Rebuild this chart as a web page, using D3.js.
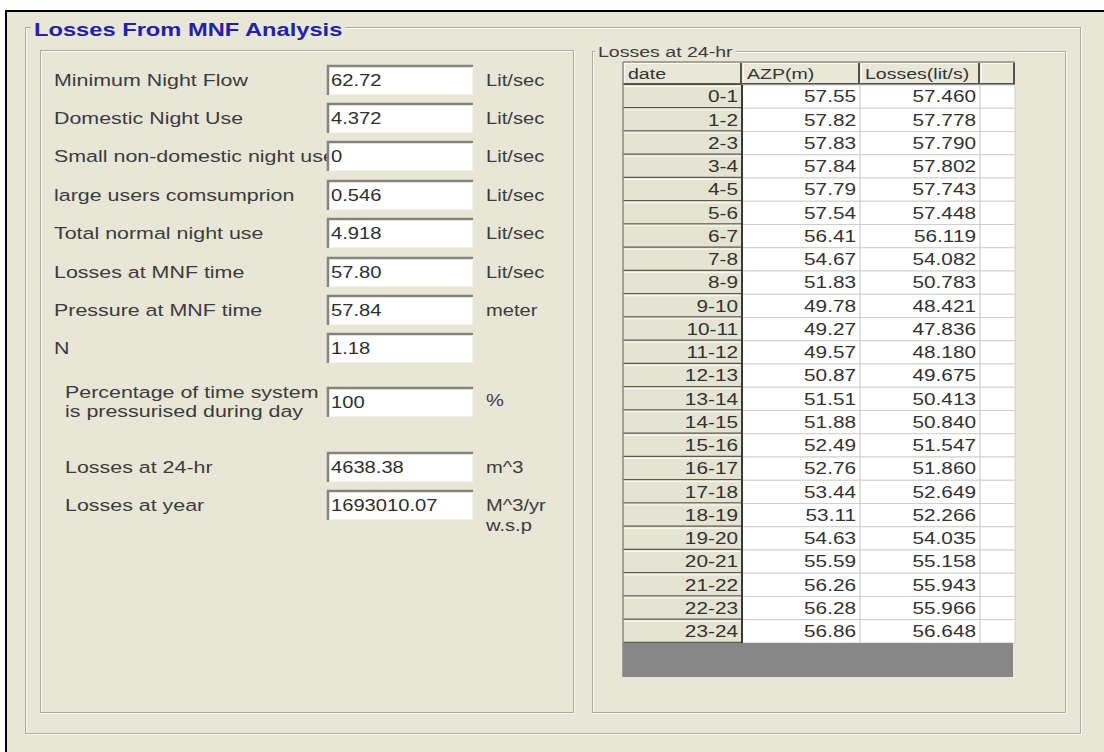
<!DOCTYPE html>
<html>
<head>
<meta charset="utf-8">
<script src="https://cdn.jsdelivr.net/npm/d3@7/dist/d3.min.js"></script>
<style>
  body { margin: 0; background: #fff; }
  svg text { font-family: "Liberation Sans", Arial, sans-serif; }
</style>
</head>
<body>
<svg id="mnf" width="1104" height="752"></svg>
<script>
// form fields (left panel)
const fieldLabels = ["Minimum Night Flow", "Domestic Night Use", "Small non-domestic night use",
  " large users comsumprion", "Total normal night use", "Losses at MNF time",
  "Pressure at MNF time", "N", "Percentage of time system\nis pressurised during day",
  "Losses at 24-hr", "Losses at year"];
const fieldValues = ["62.72", "4.372", "0", "0.546", "4.918", "57.80", "57.84", "1.18",
  "100", "4638.38", "1693010.07"];
const fieldUnits = ["Lit/sec", "Lit/sec", "Lit/sec", "Lit/sec", "Lit/sec", "Lit/sec",
  "meter", "", "%", "m^3", "M^3/yr\nw.s.p"];

// hourly table (right panel)
const columnTitles = ["date", "AZP(m)", "Losses(lit/s)", ""];
const hours = ["0-1", "1-2", "2-3", "3-4", "4-5", "5-6", "6-7", "7-8", "8-9", "9-10",
  "10-11", "11-12", "12-13", "13-14", "14-15", "15-16", "16-17", "17-18", "18-19",
  "19-20", "20-21", "21-22", "22-23", "23-24"];
const azp = [57.55, 57.82, 57.83, 57.84, 57.79, 57.54, 56.41, 54.67, 51.83, 49.78,
  49.27, 49.57, 50.87, 51.51, 51.88, 52.49, 52.76, 53.44, 53.11, 54.63,
  55.59, 56.26, 56.28, 56.86];
const losses = [57.460, 57.778, 57.790, 57.802, 57.743, 57.448, 56.119, 54.082, 50.783, 48.421,
  47.836, 48.180, 49.675, 50.413, 50.840, 51.547, 51.860, 52.649, 52.266, 54.035,
  55.158, 55.943, 55.966, 56.648];

const svg = d3.select("#mnf"),
      sx = 1.26,              // the screenshot is stretched sideways, so is the text
      bg = "#e8e6d6",
      lineDark = "#aeac9b",
      ink = "#3c3c3c";

// text with the sideways stretch
function txt(g, x, y, s, size, opt = {}) {
  const t = g.append("text")
    .attr("transform", `translate(${x},${y}) scale(${sx},1)`)
    .attr("dy", "0.35em")
    .attr("text-anchor", opt.anchor || "start")
    .style("font-size", size + "px")
    .style("font-weight", opt.bold ? "bold" : "normal")
    .attr("fill", opt.fill || ink)
    .text(s);
  return t;
}

// etched group box line (dark + white)
function etched(x0, y0, x1, y1) {
  svg.append("rect").attr("x", x0 + 1.5).attr("y", y0 + 1.5)
    .attr("width", x1 - x0).attr("height", y1 - y0)
    .attr("fill", "none").attr("stroke", "#fbfaf4");
  svg.append("rect").attr("x", x0 + 0.5).attr("y", y0 + 0.5)
    .attr("width", x1 - x0).attr("height", y1 - y0)
    .attr("fill", "none").attr("stroke", lineDark);
}

function boxTitle(x, y, s, size, opt) {
  const t = txt(svg, x, y, s, size, opt);
  const w = t.node().getComputedTextLength() * sx;
  svg.insert("rect", function () { return t.node(); })
    .attr("x", x - 3).attr("y", y - 10).attr("width", w + 6).attr("height", 20)
    .attr("fill", bg);
}

// window background
svg.append("rect").attr("x", 7).attr("y", 12).attr("width", 1097).attr("height", 740).attr("fill", bg);
svg.append("line").attr("x1", 6).attr("x2", 1104).attr("y1", 11).attr("y2", 11)
  .attr("stroke", "#000").attr("stroke-width", 2);
svg.append("line").attr("x1", 6).attr("x2", 6).attr("y1", 10).attr("y2", 752)
  .attr("stroke", "#000").attr("stroke-width", 2);

etched(25, 27, 1080, 733);
boxTitle(34, 29, "Losses From MNF Analysis", 18.8, {bold: true, fill: "#2222a8"});

etched(40, 50, 573, 712);
etched(592, 51, 1065, 712);
boxTitle(598, 52, "Losses at 24-hr", 15.5, {});

// ---- left panel: labels, input boxes, units
const rowY = d3.scaleOrdinal().domain(fieldLabels)
  .range([80, 118, 156, 195, 233, 272, 310, 348, 402, 467, 505]);
const wideLabels = new Set(fieldLabels.slice(8));
const left = svg.append("g");

// labels stop where the edit boxes begin (long one gets cut, as in the form)
svg.append("clipPath").attr("id", "labelClip")
  .append("rect").attr("x", 0).attr("y", 0).attr("width", 327).attr("height", 752);
const labels = left.append("g").attr("clip-path", "url(#labelClip)");

fieldLabels.forEach((lab, i) => {
  const y = rowY(lab);
  const x = wideLabels.has(lab) ? 65 : 54;
  const lines = lab.split("\n");
  lines.forEach((ln, k) => txt(labels, x, y + (k - (lines.length - 1) / 2) * 19, ln, 17));

  // sunken edit box
  const bx = 327, bw = 146, by = y - 15, bh = 30;
  left.append("rect").attr("x", bx).attr("y", by).attr("width", bw).attr("height", bh).attr("fill", "#fff");
  left.append("path").attr("d", `M${bx + bw},${by + 1}H${bx + 1}V${by + bh}`)
    .attr("fill", "none").attr("stroke", "#85837a").attr("stroke-width", 2.5);
  left.append("path").attr("d", `M${bx + 2},${by + bh - 0.5}H${bx + bw - 0.5}V${by + 2}`)
    .attr("fill", "none").attr("stroke", "#f3f2ea").attr("stroke-width", 1);
  txt(left, bx + 4, y, fieldValues[i], 16, {fill: "#2e2e2e"});

  fieldUnits[i].split("\n").forEach((u, k) => txt(left, 486, y - (u === "%" ? 2 : 0) + k * 20, u, 16));
});

// ---- right panel: hourly table
const tableLeft = 623, tableRight = 1015, headTop = 62;
const colX = d3.scaleOrdinal().domain(columnTitles).range([623, 742, 860, 980]);
const colW = d3.scaleOrdinal().domain(columnTitles).range([119, 118, 120, 35]);
const y = d3.scaleBand().domain(hours).range([85, 643]);
const fmtA = d3.format(".2f"), fmtL = d3.format(".3f");
const tbl = svg.append("g");

// header
columnTitles.forEach(c => {
  const x0 = colX(c), w = colW(c);
  tbl.append("rect").attr("x", x0).attr("y", headTop).attr("width", w).attr("height", 85 - headTop)
    .attr("fill", "#e9e7d8");
  tbl.append("path").attr("d", `M${x0 + 1.5},${84}V${headTop + 1.5}H${x0 + w - 1}`)
    .attr("fill", "none").attr("stroke", "#fbfaf4");
  tbl.append("path").attr("d", `M${x0 + w - 1},${headTop + 1}V${84}H${x0}`)
    .attr("fill", "none").attr("stroke", "#55544c").attr("stroke-width", 2);
  if (c) txt(tbl, x0 + 5, (headTop + 85) / 2, c, 15.5, {fill: "#333"});
});

// body cells
hours.forEach((h, i) => {
  const top = y(h), bh = y.bandwidth(), mid = top + bh / 2;
  // date cell (row header)
  tbl.append("rect").attr("x", colX("date")).attr("y", top).attr("width", colW("date")).attr("height", bh)
    .attr("fill", "#e5e3d2");
  tbl.append("line").attr("x1", tableLeft + 1).attr("x2", 740).attr("y1", top + 1.5).attr("y2", top + 1.5)
    .attr("stroke", "#fbfaf4");
  tbl.append("line").attr("x1", tableLeft).attr("x2", 742).attr("y1", top + bh - 0.5).attr("y2", top + bh - 0.5)
    .attr("stroke", "#5b5a50").attr("stroke-width", 1.6);
  txt(tbl, 738, mid, h, 16.5, {anchor: "end", fill: "#333"});

  // value cells
  ["AZP(m)", "Losses(lit/s)", ""].forEach(c => {
    tbl.append("rect").attr("x", colX(c)).attr("y", top).attr("width", colW(c)).attr("height", bh)
      .attr("fill", "#fff").attr("stroke", "#cfcfcb").attr("stroke-width", 1);
  });
  txt(tbl, 856, mid, fmtA(azp[i]), 16.5, {anchor: "end", fill: "#333"});
  txt(tbl, 976, mid, fmtL(losses[i]), 16.5, {anchor: "end", fill: "#333"});
});

// dark separator after the date column, table edges, empty area
tbl.append("line").attr("x1", 742).attr("x2", 742).attr("y1", 85).attr("y2", 643)
  .attr("stroke", "#3a3a34").attr("stroke-width", 2);
tbl.append("line").attr("x1", tableLeft).attr("x2", tableLeft).attr("y1", headTop).attr("y2", 677)
  .attr("stroke", "#8f8d80").attr("stroke-width", 1.5);
tbl.append("line").attr("x1", tableLeft).attr("x2", tableRight).attr("y1", headTop).attr("y2", headTop)
  .attr("stroke", "#8f8d80").attr("stroke-width", 1.5);
tbl.append("rect").attr("x", tableLeft).attr("y", 643).attr("width", 390).attr("height", 34)
  .attr("fill", "#878787");
</script>
</body>
</html>
